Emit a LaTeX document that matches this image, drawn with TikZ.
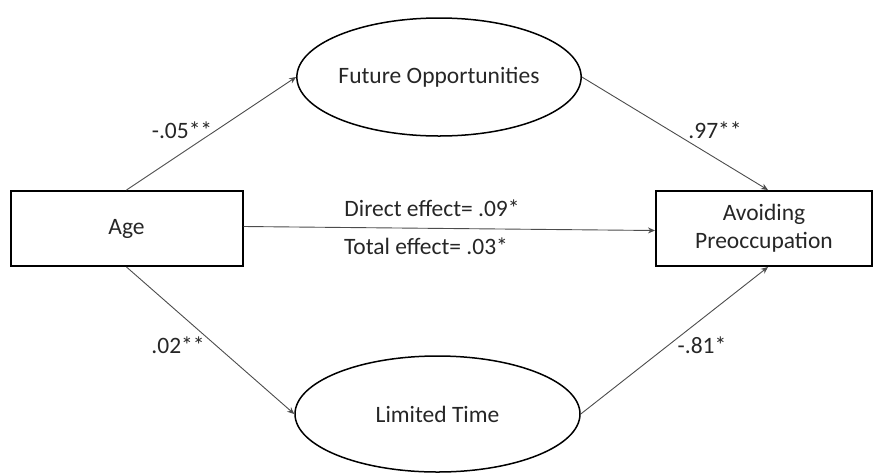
\documentclass[tikz,border=0pt]{standalone}
\usepackage{fontspec}
\setmainfont{Carlito}
\usetikzlibrary{shapes.geometric,arrows.meta}
\begin{document}
\begin{tikzpicture}[x=1pt,y=-1pt,
  txt/.style={font=\fontsize{23.5}{27}\selectfont, text=black!85},
  box/.style={txt, draw, line width=2pt, rectangle, inner sep=0pt, align=center},
  oval/.style={txt, draw, line width=1.5pt, ellipse, inner sep=0pt},
  conn/.style={line width=0.9pt, draw=black!70, -{Stealth[length=7pt,width=6pt]}},
  lab/.style={txt, inner sep=0pt}]
\useasboundingbox (0,0) rectangle (873,475);
\node[box, minimum width=232pt, minimum height=75pt] (age) at (126.5,228.5) {Age};
\node[box, minimum width=216pt, minimum height=75pt] (avoid) at (764,228.5) {Avoiding\\[1pt]Preoccupation};
\node[oval, minimum width=278pt, minimum height=118pt] (fut) at (439,77) {Future Opportunities};
\node[oval, minimum width=285pt, minimum height=116pt] (lim) at (437.5,414) {Limited Time};
\draw[conn] (age.north) -- (fut.west);
\draw[conn] (age.south) -- (lim.west);
\draw[conn] (fut.east) -- ([xshift=4pt]avoid.north);
\draw[conn] (lim.east) -- ([xshift=4pt]avoid.south);
\draw[conn] ([yshift=2pt]age.east) -- ([yshift=-2pt]avoid.west);
\node[lab] (l1) at (182,130) {-.05**};
\node[lab] (l2) at (715,130) {.97**};
\node[lab] (l3) at (178,345) {.02**};
\node[lab] (l4) at (702,345) {-.81*};
\node[lab] (l5) at (432,208) {Direct effect= .09*};
\node[lab] (l6) at (426,246) {Total effect= .03*};
\end{tikzpicture}
\end{document}
